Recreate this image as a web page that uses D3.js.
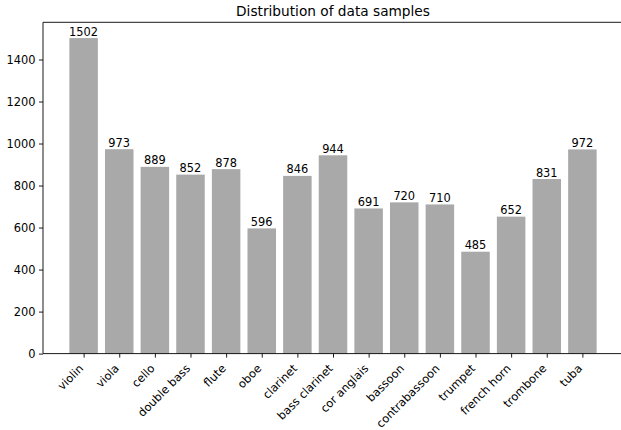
<!DOCTYPE html>
<html>
<head>
<meta charset="utf-8">
<script src="https://cdn.jsdelivr.net/npm/d3@7"></script>
<style>
  html, body { margin: 0; padding: 0; background: #fff; }
  svg { display: block; font-family: "DejaVu Sans", sans-serif; }
</style>
</head>
<body>
<svg id="chart" width="621" height="430"></svg>
<script>
const categories = ["violin", "viola", "cello", "double bass", "flute", "oboe", "clarinet", "bass clarinet", "cor anglais", "bassoon", "contrabassoon", "trumpet", "french horn", "trombone", "tuba"];
const counts = [1502, 973, 889, 852, 878, 596, 846, 944, 691, 720, 710, 485, 652, 831, 972];
const yTicks = [0, 200, 400, 600, 800, 1000, 1200, 1400];
const title = "Distribution of data samples";

(function () {
const svg = d3.select("#chart");
const mLeft = 43, mRight = 623, mTop = 22.3, mBottom = 353.6;
const fs = 11.4;

const n = categories.length;
const barW = 0.8;
const xMin = -barW / 2 - 0.05 * (n - 1 + barW);
const xMax = n - 1 + barW / 2 + 0.05 * (n - 1 + barW);
const x = d3.scaleLinear().domain([xMin, xMax]).range([mLeft, mRight]);
const yMax = d3.max(counts) * 1.05;
const y = d3.scaleLinear().domain([0, yMax]).range([mBottom, mTop]);

// bars
svg.append("g").selectAll("rect").data(counts).join("rect")
  .attr("x", (d, i) => x(i - barW / 2))
  .attr("width", (d, i) => x(i + barW / 2) - x(i - barW / 2))
  .attr("y", d => y(d))
  .attr("height", d => y(0) - y(d))
  .attr("fill", "#a9a9a9");

// value labels
svg.append("g").selectAll("text").data(counts).join("text")
  .attr("x", (d, i) => x(i))
  .attr("y", d => y(d) - 2.5)
  .attr("text-anchor", "middle")
  .attr("font-size", fs)
  .attr("fill", "#000")
  .text(d => d);

// y axis
const yAxis = d3.axisLeft(y).tickValues(yTicks).tickSize(4).tickPadding(3.5).tickFormat(d3.format("d"));
const gy = svg.append("g").attr("transform", `translate(${mLeft},0)`).call(yAxis);
gy.select(".domain").remove();
gy.selectAll("text").attr("font-size", fs).attr("font-family", "DejaVu Sans").attr("fill", "#000");
gy.selectAll("line").attr("stroke", "#000").attr("stroke-width", 0.9);

// x axis
const xAxis = d3.axisBottom(x).tickValues(d3.range(n)).tickSize(4).tickFormat("");
const gx = svg.append("g").attr("transform", `translate(0,${mBottom})`).call(xAxis);
gx.select(".domain").remove();
gx.selectAll("line").attr("stroke", "#000").attr("stroke-width", 0.9);

// rotated x labels
const h = fs * 0.76;
svg.append("g").selectAll("text").data(categories).join("text")
  .attr("transform", (d, i) => `translate(${x(i) + 0.5},${mBottom + 7.5 + 0.707 * h + 0.707 * fs * 0.24}) rotate(-45)`)
  .attr("text-anchor", "end")
  .attr("font-size", fs)
  .attr("fill", "#000")
  .text(d => d);

// spines
const sp = svg.append("g").attr("stroke", "#000").attr("stroke-width", 0.9).attr("fill", "none");
sp.append("line").attr("x1", mLeft).attr("x2", mLeft).attr("y1", mTop).attr("y2", mBottom);
sp.append("line").attr("x1", mLeft).attr("x2", mRight).attr("y1", mBottom).attr("y2", mBottom);
sp.append("line").attr("x1", mLeft).attr("x2", mRight).attr("y1", mTop).attr("y2", mTop);
sp.append("line").attr("x1", mRight).attr("x2", mRight).attr("y1", mTop).attr("y2", mBottom);

// title
svg.append("text")
  .attr("x", (mLeft + mRight) / 2)
  .attr("y", mTop - 6.5)
  .attr("text-anchor", "middle")
  .attr("font-size", 13.7)
  .attr("fill", "#000")
  .text(title);
})();
</script>
</body>
</html>
